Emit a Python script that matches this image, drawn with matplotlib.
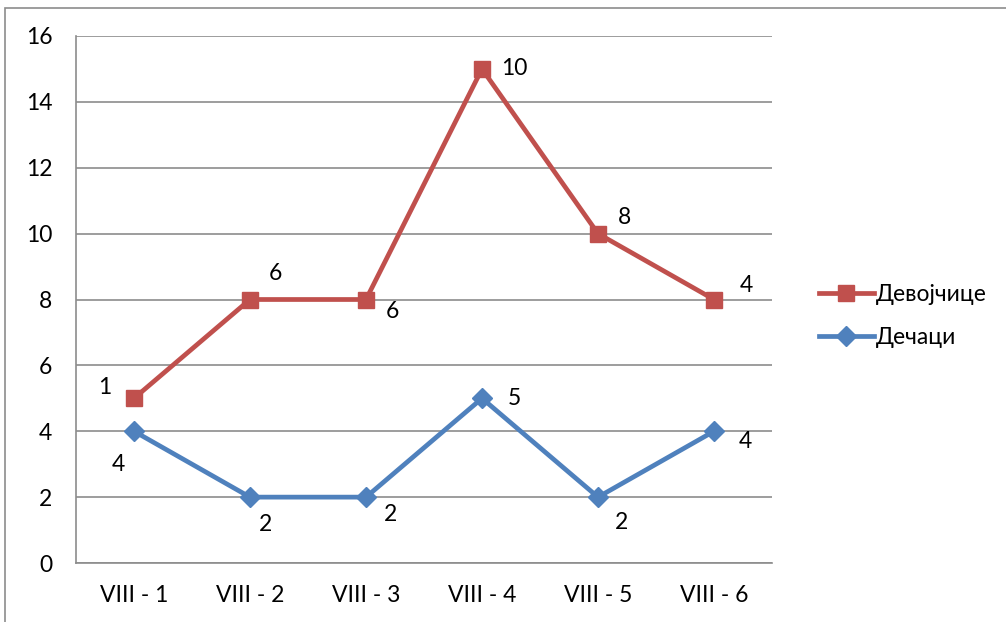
import matplotlib
matplotlib.use("Agg")
import matplotlib.pyplot as plt
from matplotlib.patches import Rectangle

categories = ["VIII - 1", "VIII - 2", "VIII - 3", "VIII - 4", "VIII - 5", "VIII - 6"]
boys = [4, 2, 2, 5, 2, 4]          # Дечаци
girls = [1, 6, 6, 10, 8, 4]        # Девојчице (stacked on top of Дечаци)
yticks = [0, 2, 4, 6, 8, 10, 12, 14, 16]

# label offsets in pixels (dx, dy downwards)
girls_off = [(-29, -11), (25, -26), (26, 12), (32, 0), (27, -16), (32, -14)]
boys_off = [(-16, 33), (16, 27), (25, 17), (32, 0), (24, 25), (31, 10)]

plt.rcParams['font.family'] = ['Lato', 'DejaVu Sans']
W, H = 1006, 622
fig = plt.figure(figsize=(W / 100, H / 100), dpi=100)
ax = fig.add_axes([76 / W, 1 - 563 / H, (772 - 76) / W, (563 - 36) / H])

x = list(range(len(categories)))
girls_stacked = [b + g for b, g in zip(boys, girls)]

red = "#C0504D"
blue = "#4F81BD"
ax.plot(x, girls_stacked, color=red, lw=3.4, marker="s", ms=12, zorder=3, label="Девојчице")
ax.plot(x, boys, color=blue, lw=3.4, marker="D", ms=10, zorder=3, label="Дечаци")

fs = 16.5
for xi, yi, lab, (dx, dy) in zip(x, girls_stacked, girls, girls_off):
    ax.annotate(str(lab), (xi, yi), xytext=(dx, -dy), textcoords="offset pixels",
                ha="center", va="center", fontsize=fs, color="black")
for xi, yi, lab, (dx, dy) in zip(x, boys, boys, boys_off):
    ax.annotate(str(lab), (xi, yi), xytext=(dx, -dy), textcoords="offset pixels",
                ha="center", va="center", fontsize=fs, color="black")

ax.set_xlim(-0.5, len(categories) - 0.5)
ax.set_ylim(0, 16)
ax.set_yticks(yticks)
ax.set_xticks(x)
ax.set_xticklabels(categories, fontsize=fs)
ax.tick_params(axis="y", labelsize=fs, length=0, pad=17)
ax.tick_params(axis="x", length=0, pad=16)
ax.yaxis.grid(True, color="#8c8c8c", lw=1.2)
ax.set_axisbelow(True)
for s in ["top", "right"]:
    ax.spines[s].set_visible(False)
for s in ["left", "bottom"]:
    ax.spines[s].set_color("#8c8c8c")
    ax.spines[s].set_linewidth(1.2)

# outer chart border (cut off at right and bottom)
fig.patches.append(Rectangle((4.5 / W, -0.1), 1.2, 1 - 7.5 / H + 0.1, transform=fig.transFigure,
                             fill=False, edgecolor="#8c8c8c", lw=1.2))

leg = fig.legend(loc="center left", bbox_to_anchor=(798 / W, 1 - 316 / H), frameon=False,
                 fontsize=fs, handlelength=2.4, labelspacing=0.95, handletextpad=0.1)

fig.savefig("out.png", dpi=100)
